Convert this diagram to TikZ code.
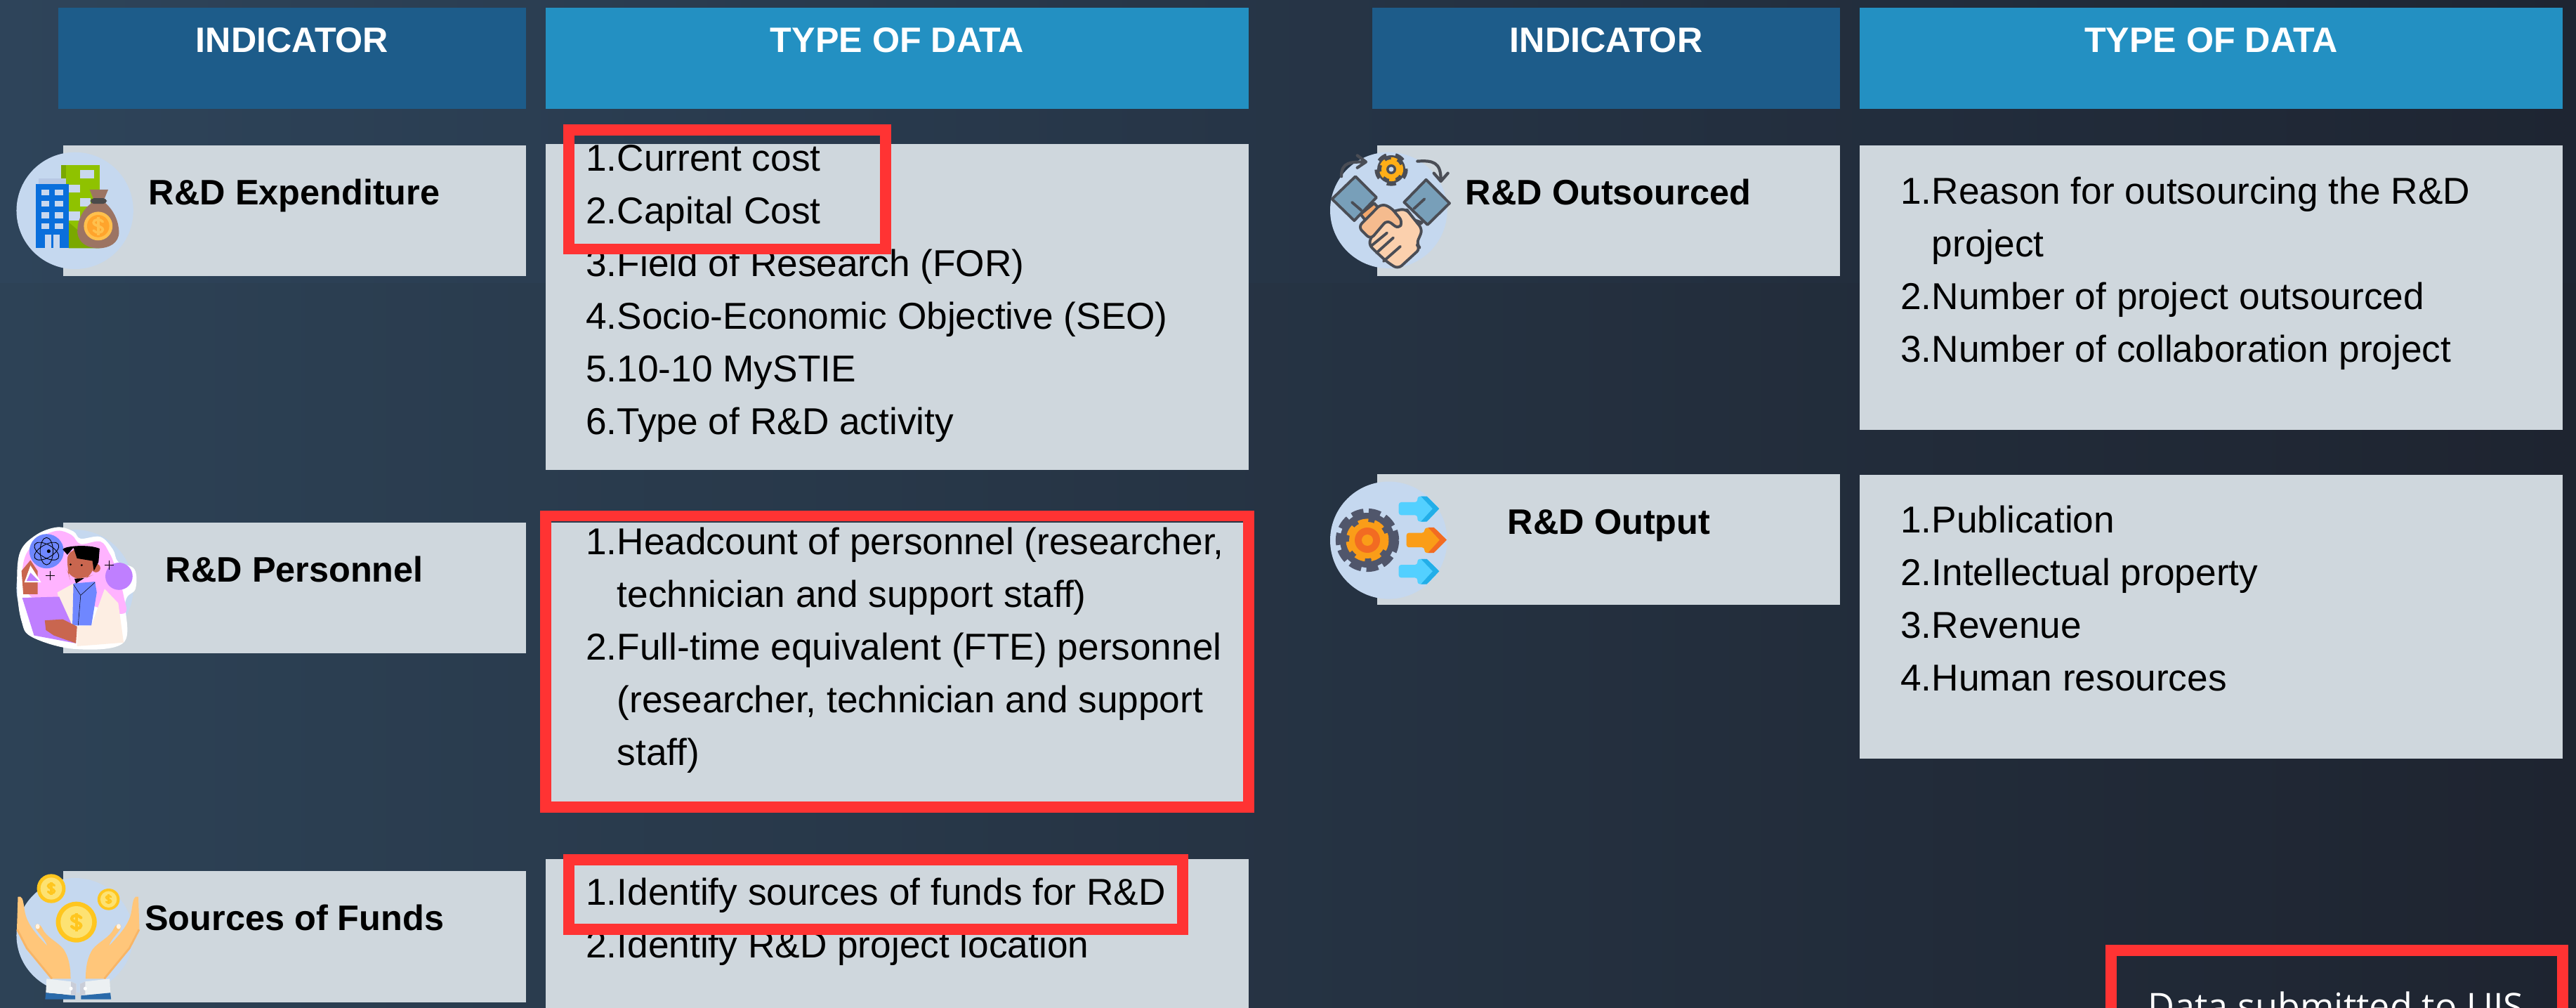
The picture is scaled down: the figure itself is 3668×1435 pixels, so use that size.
\documentclass[tikz,border=0pt]{standalone}
\usepackage{fontspec}
\setmainfont{Liberation Sans}
\newfontfamily\datafont{Open Sans}
\definecolor{panelc}{HTML}{CFD7DD}
\definecolor{hdra}{HTML}{1D5C8A}
\definecolor{hdrb}{HTML}{2390C2}
\definecolor{redc}{HTML}{FF3333}
\definecolor{circc}{HTML}{C5D8EF}
\definecolor{lineC}{HTML}{4A4D55}
\definecolor{bgLb}{HTML}{2D4256}
\definecolor{bgMb}{HTML}{27384C}
\definecolor{bgRb}{HTML}{1E2430}
\definecolor{bgLt}{HTML}{2E445A}
\definecolor{bgMt}{HTML}{263445}
\definecolor{bgRt}{HTML}{1E2532}
\definecolor{gb}{HTML}{8FC200}
\definecolor{gd}{HTML}{7AA800}
\definecolor{wc}{HTML}{C9D8EE}
\definecolor{wd}{HTML}{B8C8E4}
\definecolor{bb}{HTML}{0A6FDC}
\definecolor{bagc}{HTML}{9C7463}
\definecolor{tiec}{HTML}{4A4A4A}
\definecolor{coinA}{HTML}{FFC04D}
\definecolor{coinB}{HTML}{FFA42C}
\definecolor{pinkc}{HTML}{FFB3FF}
\definecolor{atomc}{HTML}{6F87FF}
\definecolor{purpc}{HTML}{BF7FFF}
\definecolor{coatc}{HTML}{FDEEE3}
\definecolor{skinc}{HTML}{C9664F}
\definecolor{cO}{HTML}{FFC61F}
\definecolor{cI}{HTML}{FDE272}
\definecolor{slc}{HTML}{789FB9}
\definecolor{orC}{HTML}{F3A76B}
\definecolor{handR}{HTML}{FBD0AD}
\definecolor{handL}{HTML}{F5BB8E}
\definecolor{gearc}{HTML}{FFAE17}
\definecolor{arB}{HTML}{53D0FF}
\definecolor{arD}{HTML}{22AEE8}
\definecolor{orA}{HTML}{FA9D18}
\definecolor{orB}{HTML}{F26B22}
\definecolor{gearD}{HTML}{50566B}
\definecolor{HandC}{HTML}{FFC67A}
\definecolor{HandD}{HTML}{F8B566}
\definecolor{CuffC}{HTML}{ECF0F2}
\definecolor{CuffS}{HTML}{C9CDD8}
\definecolor{SleeveC}{HTML}{2A6AAA}
\tikzset{
  panel/.style={fill=panelc,inner sep=0pt,outer sep=0pt,anchor=north west},
  hdrAbox/.style={fill=hdra,inner sep=0pt,outer sep=0pt,anchor=north west},
  hdrBbox/.style={fill=hdrb,inner sep=0pt,outer sep=0pt,anchor=north west},
  hdrtext/.style={anchor=base,inner sep=0pt,text=white,font=\fontsize{28.6}{34}\selectfont\bfseries},
  labtext/.style={anchor=base west,inner sep=0pt,text=black,font=\fontsize{28.7}{34}\selectfont\bfseries},
  lstnode/.style={anchor=north west,inner sep=0pt,align=left,text=black,font=\fontsize{30.3}{42.67}\selectfont},
  redframe/.style={draw=redc,line width=9.1pt,line join=miter},
  iconI/.style={shift={(0,180)},x=0.0102041cm,y=-0.0102041cm},
  iconP/.style={shift={(0,180)},x=0.0102041cm,y=-0.0102041cm},
  iconF/.style={shift={(0,1180)},x=0.0102041cm,y=-0.0066667cm},
  iconH/.style={shift={(1860,180)},x=0.0066667cm,y=-0.0091827cm},
}
\newcommand{\panelbox}[6]{\node[#1,minimum width={(#5-#3)*0.02cm},minimum height={(#6-#4)*0.02cm}] (#2) at (#3,#4) {};}
\newcommand{\lst}[4]{\node[lstnode] (#1) at (#2,#3-70.3) {\rule{0pt}{40pt}#4};}
\newcommand{\gap}{\phantom{1.}}
\newcommand{\dollarsign}[6]{%
  \draw[#5,line width=#6,line cap=round] (#1+#4,#2-0.55*#3) .. controls (#1+0.4*#4,#2-1.0*#3) and (#1-#4,#2-0.85*#3) .. (#1-#4,#2-0.45*#3)
    .. controls (#1-#4,#2) and (#1+#4,#2) .. (#1+#4,#2+0.45*#3)
    .. controls (#1+#4,#2+0.85*#3) and (#1-0.4*#4,#2+1.0*#3) .. (#1-#4,#2+0.55*#3);
  \draw[#5,line width=#6] (#1,#2-1.15*#3) -- (#1,#2+1.15*#3);}
\newcommand{\handshape}{%
  \fill[HandC] (50,290) .. controls (62,285) and (64,300) .. (68,340) .. controls (72,390) and (85,425) .. (132,500)
    .. controls (125,465) and (100,440) .. (98,415) .. controls (100,400) and (112,405) .. (118,425)
    .. controls (130,465) and (160,480) .. (178,515) .. controls (190,545) and (197,580) .. (197,640)
    -- (145,640) -- (75,510) -- (47,430) -- cycle;
  \draw[HandD,line width=1.6pt] (48,430) -- (75,510) -- (145,640);
  \fill[white!80!HandC] (105,417) ellipse (6 and 11);
  \fill[CuffC] (130,640) -- (198,652) -- (213,662) -- (213,712) -- (128,700) -- cycle;
  \fill[CuffS] (198,652) -- (213,662) -- (213,712) -- (198,708) -- cycle;
  \fill[white] (198,682) ellipse (5 and 8);
  \fill[SleeveC] (128,700) -- (210,712) -- (210,728) -- (126,728) -- cycle;
}
\begin{document}
\begin{tikzpicture}[x=0.02cm,y=-0.02cm]
\clip (0,0) rectangle (3668,1435);
% background
\shade[left color=bgLb,middle color=bgMb,right color=bgRb] (0,403) rectangle (3668,1435);
\shade[left color=bgLt,middle color=bgMt,right color=bgRt] (0,0) rectangle (3668,403);
% headers
\panelbox{hdrAbox}{hA}{83}{11}{749}{155}
\panelbox{hdrBbox}{hB}{777}{11}{1778}{155}
\panelbox{hdrAbox}{hC}{1954}{11}{2620}{155}
\panelbox{hdrBbox}{hD}{2648}{11}{3649}{155}
\node[hdrtext] (tA) at (416,75) {INDICATOR};
\node[hdrtext] (tB) at (1277.5,75) {TYPE OF DATA};
\node[hdrtext] (tC) at (2287,75) {INDICATOR};
\node[hdrtext] (tD) at (3148.5,75) {TYPE OF DATA};
% indicator panels
\panelbox{panel}{p1}{90}{207}{749}{393}
\panelbox{panel}{p2}{90}{744}{749}{930}
\panelbox{panel}{p3}{90}{1240}{749}{1427}
\panelbox{panel}{p4}{1961}{207}{2620}{393}
\panelbox{panel}{p5}{1961}{675}{2620}{861}
\node[labtext] (l1) at (211.5,291.5) {R\&D Expenditure};
\node[labtext] (l2) at (235.5,828) {R\&D Personnel};
\node[labtext] (l3) at (206,1324) {Sources of Funds};
\node[labtext] (l4) at (2086.5,292) {R\&D Outsourced};
\node[labtext] (l5) at (2146.5,760) {R\&D Output};
% data panels
\panelbox{panel}{d1}{777}{205}{1778}{669}
\panelbox{panel}{d2}{777}{744}{1778}{1145}
\panelbox{panel}{d3}{777}{1223}{1778}{1470}
\panelbox{panel}{d4}{2648}{207}{3649}{612}
\panelbox{panel}{d5}{2648}{676}{3649}{1080}
\lst{t1}{834}{243}{1.Current cost\\2.Capital Cost\\3.Field of Research (FOR)\\4.Socio-Economic Objective (SEO)\\5.10-10 MySTIE\\6.Type of R\&D activity}
\lst{t2}{834}{789}{1.Headcount of personnel (researcher,\\\gap technician and support staff)\\2.Full-time equivalent (FTE) personnel\\\gap (researcher, technician and support\\\gap staff)}
\lst{t3}{834}{1288}{1.Identify sources of funds for R\&D\\2.Identify R\&D project location}
\lst{t4}{2706}{290}{1.Reason for outsourcing the R\&D\\\gap project\\2.Number of project outsourced\\3.Number of collaboration project}
\lst{t5}{2706}{758}{1.Publication\\2.Intellectual property\\3.Revenue\\4.Human resources}
% red frames
\draw[redframe] (809.5,185) rectangle (1261,354.5);
\draw[redframe] (777,734.5) rectangle (1778,1149);
\draw[redframe] (809.5,1224) rectangle (1684,1323);
\draw[redframe] (3006,1353) rectangle (3649,1500);
\node[anchor=base west,inner sep=0pt,text=white,font=\datafont\fontsize{29.7}{34}\selectfont] (uis) at (3058,1451) {Data submitted to UIS};
% icon: expenditure
\begin{scope}[iconI]
\fill[circc] (209,235) circle[radius=163];
\fill[gb] (170,107) rectangle (278,340);
\fill[gd] (170,107) -- (185,107) -- (185,145) -- (170,145) -- cycle;
\fill[gd] (185,262) -- (278,340) -- (192,340) -- cycle;
\foreach \a/\b/\c/\d in {223/122/263/146,192/162/223/184,223/200/252/224,192/238/223/262}{\fill[wc] (\a,\b) rectangle (\c,\d);}
\fill[wd] (107,145) rectangle (185,160);
\fill[bb] (100,160) rectangle (192,340);
\foreach \yy in {176,208,240,270}{\fill[wc] (115,\yy) rectangle (138,\yy+16);\fill[wc] (153,\yy) rectangle (176,\yy+16);}
\fill[wc] (126,302) rectangle (143,340);\fill[wc] (149,302) rectangle (166,340);
\fill[bagc] (250,176) -- (302,176) -- (290,205) -- (262,205) -- cycle;
\fill[bagc] (258,212) .. controls (225,235) and (215,270) .. (216,295) .. controls (218,325) and (245,340) .. (274,340) .. controls (305,340) and (332,325) .. (332,295) .. controls (332,270) and (320,235) .. (292,212) -- cycle;
\fill[tiec,rounded corners=3pt] (252,200) rectangle (298,216);
\fill[coinA] (274,278) circle[radius=40];
\fill[coinB] (274,278) circle[radius=31];
\dollarsign{274}{278}{22}{13}{coinA}{2pt}
\end{scope}
% icon: personnel
\begin{scope}[iconP]
\fill[circc] (209,1288) circle[radius=163];
\fill[white] plot[smooth cycle,tension=0.6] coordinates {(55,1190) (100,1140) (160,1118) (205,1130) (225,1150) (280,1145) (315,1180) (330,1215) (375,1235) (378,1290) (350,1325) (345,1440) (210,1458) (90,1425) (60,1380) (48,1290)};
\fill[pinkc] plot[smooth cycle,tension=0.6] coordinates {(70,1200) (110,1150) (160,1128) (200,1140) (225,1165) (280,1158) (305,1190) (320,1225) (345,1310) (340,1360) (200,1320) (100,1320) (65,1270)};
\fill[atomc] (130,1185) circle[radius=48];
\draw[black,line width=0.5pt] (130,1185) ellipse (18 and 38);
\draw[black,line width=0.5pt,rotate around={60:(130,1185)}] (130,1185) ellipse (18 and 38);
\draw[black,line width=0.5pt,rotate around={-60:(130,1185)}] (130,1185) ellipse (18 and 38);
\fill[black] (136,1185) circle[radius=5];
\fill[purpc] (332,1255) circle[radius=38];
\draw[black,line width=0.5pt] (292,1224) -- (318,1224) (305,1211) -- (305,1237) (127,1253) -- (153,1253) (140,1240) -- (140,1266);
\fill[coatc] (160,1300) -- (205,1275) -- (205,1395) -- (255,1392) -- (292,1290) -- (330,1330) -- (345,1440) -- (215,1450) -- (215,1400) -- (175,1370) -- cycle;
\fill[atomc] (205,1275) -- (265,1270) -- (270,1300) -- (255,1392) -- (202,1392) -- cycle;
\fill[skinc,rounded corners=8pt] (188,1180) -- (262,1180) -- (262,1250) -- (235,1262) -- (195,1262) -- (188,1240) -- cycle;
\fill[skinc] (268,1232) circle[radius=12];
\fill[black] (175,1180) .. controls (180,1170) and (250,1165) .. (278,1178) -- (275,1215) -- (262,1240) -- (258,1212) -- (215,1205) -- (205,1175) -- (188,1195) -- cycle;
\fill[black] (208,1262) -- (235,1260) -- (212,1275) -- cycle;
\fill[black] (197,1222) circle[radius=3] (228,1224) circle[radius=3];
\draw[black,line width=0.3pt] (205,1278) -- (225,1308) -- (265,1272) (225,1308) -- (218,1392);
\fill[purpc] (62,1315) -- (165,1312) -- (205,1400) -- (212,1442) -- (95,1420) -- cycle;
\fill[skinc] (125,1378) -- (175,1375) -- (215,1395) -- (212,1442) -- (150,1420) -- (128,1405) -- cycle;
\fill[skinc] (60,1240) -- (85,1210) -- (105,1240) -- (105,1305) -- (65,1305) -- cycle;
\fill[white] (85,1225) -- (115,1272) -- (68,1272) -- cycle;
\fill[purpc] (85,1245) -- (108,1268) -- (74,1268) -- cycle;
\end{scope}
% icon: funds
\begin{scope}[iconF]
\fill[circc] (209,455) ellipse (163 and 245);
\fill[cO] (143,255) ellipse (40 and 62);\fill[cI] (143,255) ellipse (30 and 47);
\fill[cO] (303,301) ellipse (31 and 46);\fill[cI] (303,301) ellipse (23 and 35);
\fill[cO] (213,398) ellipse (57 and 87);\fill[cI] (213,398) ellipse (44 and 68);
\dollarsign{143}{255}{24}{9}{cO}{1.8pt}
\dollarsign{303}{301}{18}{7}{cO}{1.4pt}
\dollarsign{213}{398}{34}{13}{cO}{2.4pt}
\handshape
\begin{scope}[shift={(436,0)},xscale=-1]
\handshape
\end{scope}
\end{scope}
% icon: outsourced
\begin{scope}[iconH]
\fill[circc] (352,260) ellipse (250 and 180);
\begin{scope}[lineC,line width=2.2pt,line join=round,line cap=round]
\filldraw[fill=slc] (110,225) -- (210,155) -- (300,220) -- (205,292) -- cycle;
\filldraw[fill=slc] (418,235) -- (512,165) -- (612,238) -- (518,305) -- cycle;
\draw (195,235) -- (235,260) (460,255) -- (505,225);
\filldraw[fill=orC] (232,272) -- (290,238) -- (320,262) -- (262,300) -- cycle;
\filldraw[fill=orC] (430,258) -- (462,290) -- (495,298) -- (450,320) -- cycle;
\filldraw[fill=handR,rounded corners=4pt] (330,275) -- (375,262) -- (425,255) -- (497,320) -- (470,365) -- (488,378) -- (392,442) -- (345,420) -- (300,390) -- (265,365) -- (300,310) -- cycle;
\filldraw[fill=handL,rounded corners=4pt] (222,312) -- (320,240) -- (360,250) -- (412,295) -- (395,318) -- (345,290) -- (275,350) -- cycle;
\draw (345,330) -- (278,370) (372,345) -- (300,392) (402,372) -- (330,418);
\draw[line width=2.4pt] (150,155) .. controls (150,110) and (190,110) .. (250,110) (218,90) -- (255,110) -- (218,128);
\draw[line width=2.4pt] (475,108) .. controls (540,105) and (575,110) .. (575,165) (545,145) -- (575,170) -- (605,145);
\end{scope}
\end{scope}
\fill[lineC] (1981,241) circle[radius=20];
\draw[lineC,line width=4.2pt,dash pattern=on 7.1pt off 7.1pt] (1981,241) circle[radius=20];
\fill[gearc] (1981,241) circle[radius=14];
\draw[gearc,line width=2.4pt,dash pattern=on 5pt off 5pt] (1981,241) circle[radius=15];
\fill[lineC] (1981,241) circle[radius=7];
\fill[circc] (1981,241) circle[radius=3.5];
% icon: output
\begin{scope}[iconH]
\fill[circc] (352,1283) ellipse (250 and 182);
\foreach \dy in {0,194}{
\fill[arB,rounded corners=2pt] (395,1165+\dy) -- (475,1165+\dy) -- (475,1147+\dy) -- (515,1147+\dy) -- (568,1185+\dy) -- (515,1225+\dy) -- (475,1225+\dy) -- (475,1205+\dy) -- (395,1205+\dy) -- cycle;
\fill[arD] (490,1147+\dy) -- (515,1147+\dy) -- (568,1185+\dy) -- (515,1225+\dy) -- (490,1225+\dy) -- (540,1185+\dy) -- cycle;}
\fill[orA,rounded corners=2pt] (428,1260) -- (505,1260) -- (505,1245) -- (545,1243) -- (600,1282) -- (545,1322) -- (505,1322) -- (505,1305) -- (428,1305) -- cycle;
\fill[orB] (520,1243) -- (545,1243) -- (600,1282) -- (545,1322) -- (520,1322) -- (570,1282) -- cycle;
\end{scope}
\draw[gearD,line width=7pt,dash pattern=on 9.2pt off 4pt] (1947,769) circle[radius=39];
\fill[gearD] (1947,769) circle[radius=39];
\fill[orA] (1947,769) circle[radius=26];
\draw[orA,line width=4pt,dash pattern=on 8pt off 5pt] (1947,769) circle[radius=27];
\fill[orB] (1947,769) circle[radius=18];
\fill[orA] (1947,769) circle[radius=8];
\end{tikzpicture}
\end{document}
